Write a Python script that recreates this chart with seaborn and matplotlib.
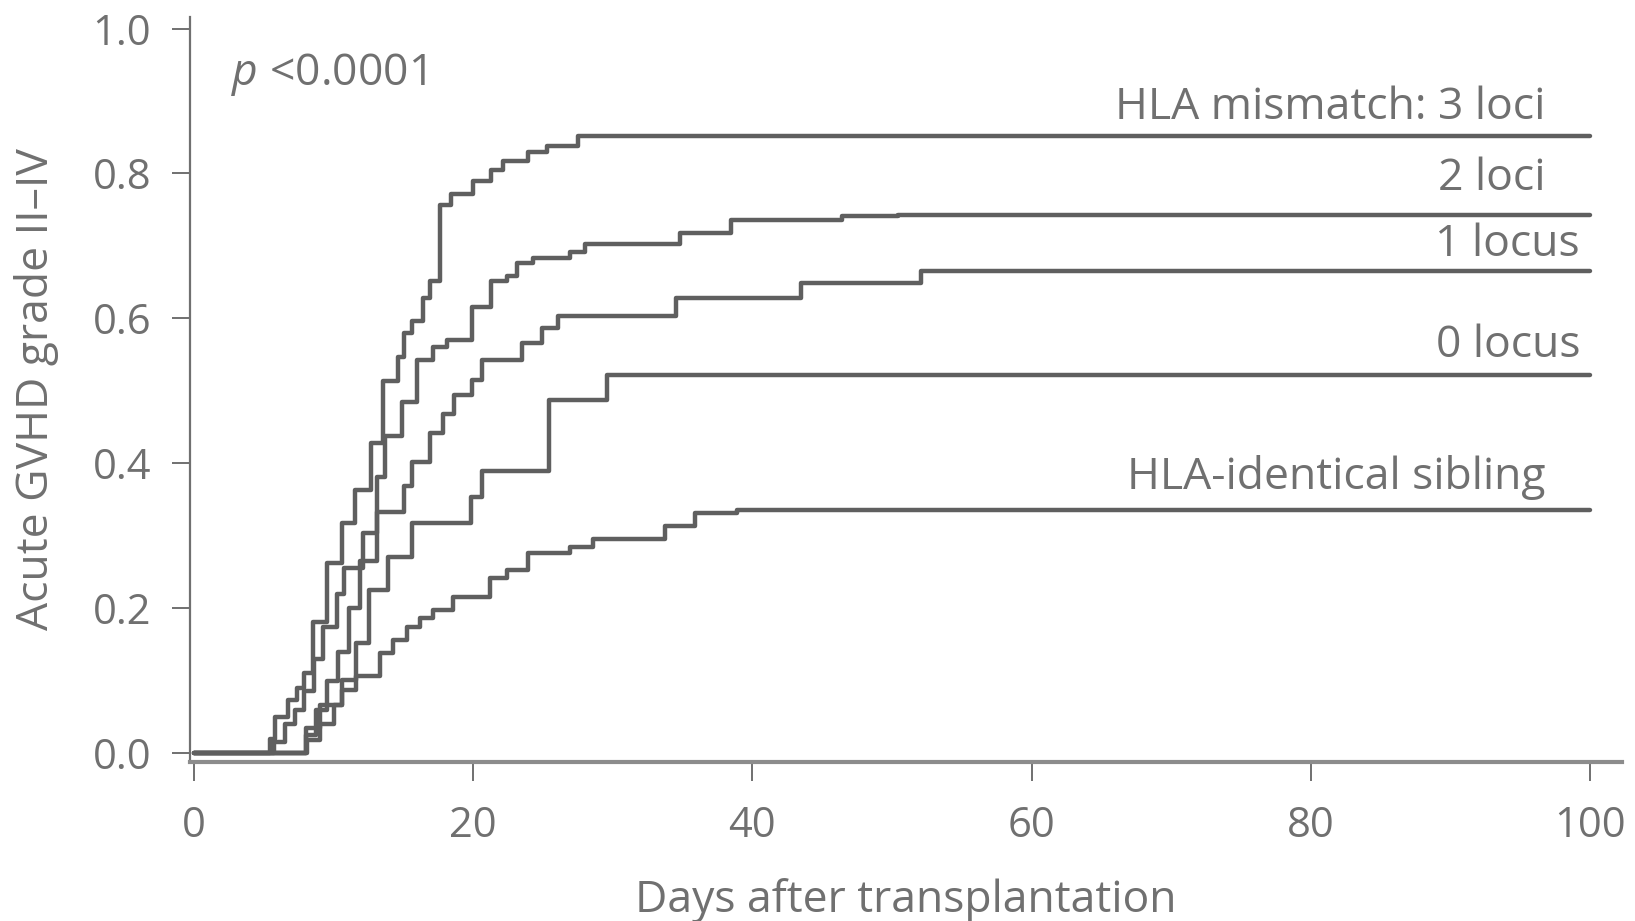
import numpy as np
import pandas as pd
import matplotlib
matplotlib.use("Agg")
import matplotlib.pyplot as plt
import seaborn as sns

# Cumulative incidence of acute GVHD grade II-IV (step curves), by donor HLA match
FOLLOW_UP = 100

days_3loci = [0, 5.4, 5.8, 6.7, 7.4, 7.9, 8.5, 9.5, 10.6, 11.5, 12.7, 13.5, 14.6, 15.0,
              15.6, 16.4, 16.9, 17.6, 18.4, 20.0, 21.3, 22.1, 23.9, 25.3, 27.5]
inc_3loci = [0, 0.02, 0.05, 0.073, 0.09, 0.11, 0.181, 0.262, 0.317, 0.363, 0.428, 0.513, 0.547, 0.58,
             0.596, 0.628, 0.651, 0.756, 0.771, 0.790, 0.805, 0.817, 0.829, 0.838, 0.852]

days_2loci = [0, 5.7, 6.5, 7.2, 7.9, 8.6, 9.2, 10.2, 10.7, 12.1, 13.1, 13.7, 14.9, 16.0,
              17.1, 18.1, 19.9, 21.3, 22.4, 23.1, 24.3, 26.9, 28.0, 34.8, 38.5, 46.4, 50.4]
inc_2loci = [0, 0.015, 0.04, 0.06, 0.085, 0.13, 0.174, 0.22, 0.255, 0.304, 0.381, 0.437, 0.485, 0.543,
             0.561, 0.570, 0.616, 0.651, 0.658, 0.676, 0.683, 0.692, 0.702, 0.718, 0.736, 0.741, 0.743]

days_1locus = [0, 8.0, 8.7, 9.5, 10.3, 11.1, 11.9, 13.1, 15.0, 15.6, 16.9, 17.8, 18.6, 19.9,
               20.6, 23.5, 24.9, 26.1, 34.5, 43.5, 52.1]
inc_1locus = [0, 0.025, 0.06, 0.10, 0.14, 0.20, 0.265, 0.333, 0.368, 0.402, 0.442, 0.468, 0.494, 0.515,
              0.543, 0.566, 0.587, 0.603, 0.628, 0.649, 0.665]

days_0locus = [0, 8.0, 9.0, 10.6, 11.6, 12.5, 13.9, 15.6, 19.8, 20.6, 25.4, 29.6]
inc_0locus = [0, 0.034, 0.066, 0.101, 0.152, 0.225, 0.271, 0.317, 0.354, 0.389, 0.487, 0.522]

days_sibling = [0, 8.1, 9.0, 10.0, 10.6, 11.6, 13.3, 14.25, 15.26, 16.2, 17.1, 18.55, 21.2, 22.4,
                23.9, 26.9, 28.6, 33.7, 35.9, 38.9]
inc_sibling = [0, 0.018, 0.04, 0.066, 0.087, 0.107, 0.138, 0.156, 0.174, 0.186, 0.198, 0.216, 0.241, 0.253,
               0.276, 0.285, 0.296, 0.313, 0.331, 0.336]

groups = ["HLA mismatch: 3 loci", "2 loci", "1 locus", "0 locus", "HLA-identical sibling"]
x_ticks = [0, 20, 40, 60, 80, 100]
y_ticks = [0.0, 0.2, 0.4, 0.6, 0.8, 1.0]
p_text = "<0.0001"

series = [(days_3loci, inc_3loci), (days_2loci, inc_2loci), (days_1locus, inc_1locus),
          (days_0locus, inc_0locus), (days_sibling, inc_sibling)]

frames = []
for name, (d, v) in zip(groups, series):
    d = list(d) + [FOLLOW_UP]
    v = list(v) + [v[-1]]
    frames.append(pd.DataFrame({"day": d, "incidence": v, "group": name}))
df = pd.concat(frames, ignore_index=True)

sns.set_theme(style="ticks")
plt.rcParams["font.family"] = ["Open Sans", "DejaVu Sans"]
plt.rcParams["mathtext.fontset"] = "custom"
plt.rcParams["mathtext.it"] = "Open Sans:italic"

ink = "#5f5f5f"
text_c = "#707070"
fs = 32
tick_fs = 30

fig = plt.figure(figsize=(16.35, 9.21), dpi=100)
ax = fig.add_axes([0.1162, 0.1726, 0.8758, 0.809])

sns.lineplot(data=df, x="day", y="incidence", units="group", estimator=None,
             drawstyle="steps-post", color=ink, linewidth=3.2, ax=ax, legend=False)

ax.set_xlim(-0.3, 102.3)
ax.set_ylim(-0.0124, 1.016)

ax.set_xticks(x_ticks)
ax.set_xticklabels([str(t) for t in x_ticks])
ax.set_yticks(y_ticks)
ax.set_yticklabels([f"{t:.1f}" for t in y_ticks])

for side in ("top", "right"):
    ax.spines[side].set_visible(False)
ax.spines["bottom"].set_color("#8c8c8c")
ax.spines["bottom"].set_linewidth(3.0)
ax.spines["left"].set_color("#707070")
ax.spines["left"].set_linewidth(1.6)

ax.tick_params(axis="x", length=14, width=1.4, color="#707070", pad=17,
               labelsize=tick_fs, labelcolor=text_c)
ax.tick_params(axis="y", length=13, width=1.4, color="#707070", pad=15,
               labelsize=tick_fs, labelcolor=text_c)

ax.set_xlabel("Days after transplantation", fontsize=fs, color=text_c, labelpad=22)
ax.set_ylabel("Acute GVHD grade II\u2013IV", fontsize=fs, color=text_c, labelpad=24)

ax.text(2.65, 0.936, "$p$ " + p_text, fontsize=32, color=text_c, ha="left", va="center")

label_pos = [(96.85, 0.891), (96.85, 0.793), (99.3, 0.701), (99.3, 0.562), (96.85, 0.381)]
for name, (lx, ly) in zip(groups, label_pos):
    ax.text(lx, ly, name, fontsize=fs, color=text_c, ha="right", va="center")

fig.savefig("out.png", dpi=100, facecolor="white")
